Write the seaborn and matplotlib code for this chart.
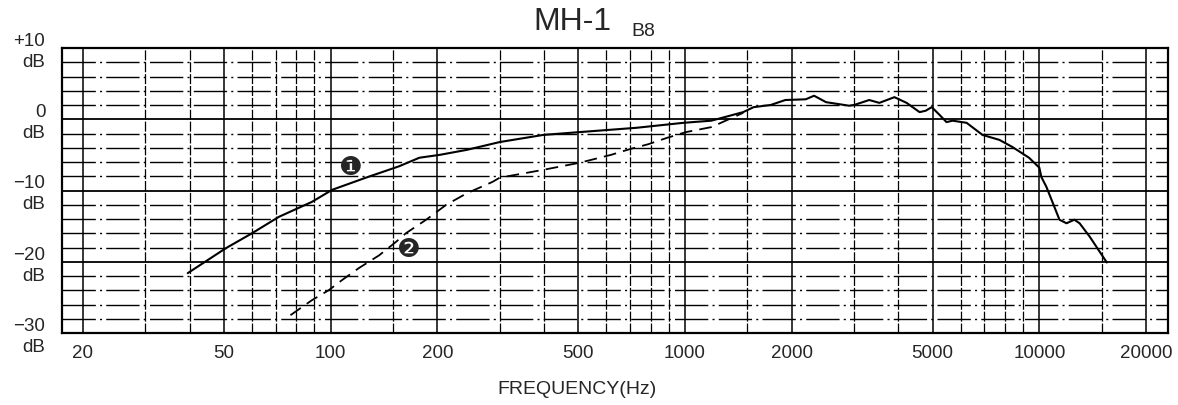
import numpy as np
import pandas as pd
import matplotlib
matplotlib.use('Agg')
import matplotlib.pyplot as plt
import seaborn as sns

# Curve 1 (solid) - frequency (Hz) and level (dB)
freq_1 = [39.5, 50.6, 60, 71.4, 88.5, 101, 125.7, 156, 178, 203, 242, 300, 398, 505,
          729, 990, 1187, 1459, 1562, 1744, 1919, 2191, 2313, 2500, 2904, 3000,
          3310, 3535, 3900, 4221, 4592, 4780, 4970, 5231, 5470, 5689, 6232, 6912,
          7716, 8396, 9349, 10000, 10130, 10470, 11396, 11930, 12550, 12990,
          13880, 15500]
level_1 = [-21.6, -18.1, -16.0, -13.7, -11.6, -9.9, -8.2, -6.6, -5.4, -5.0, -4.3, -3.2,
           -2.2, -1.8, -1.2, -0.5, -0.2, 1.0, 1.7, 2.0, 2.7, 2.8, 3.3, 2.4, 1.9, 2.0,
           2.7, 2.3, 3.1, 2.3, 1.0, 1.2, 1.7, 0.6, -0.4, -0.2, -0.5, -2.2,
           -2.9, -3.9, -5.4, -6.8, -8.1, -9.5, -14.1, -14.6, -14.1, -14.6,
           -16.5, -20.1]

# Curve 2 (dashed)
freq_2 = [77, 88.5, 98.7, 107.5, 120, 137, 153, 163, 186, 212, 242, 286, 300, 398,
          505, 618, 698, 788, 891, 1007, 1187, 1459]
level_2 = [-27.5, -25.4, -24.0, -22.6, -20.9, -19.1, -17.2, -16.0, -14.1, -12.0, -10.4,
           -8.8, -8.2, -7.1, -6.1, -5.0, -4.2, -3.5, -2.6, -1.8, -1.1, 0.9]

# axis ticks / grid
x_ticks = [20, 50, 100, 200, 500, 1000, 2000, 5000, 10000, 20000]
x_grid = [20, 30, 40, 50, 60, 70, 80, 90, 100, 150, 200, 300, 400, 500, 600, 700, 800,
          900, 1000, 1500, 2000, 3000, 4000, 5000, 6000, 7000, 8000, 9000, 10000,
          15000, 20000]
y_ticks = [10, 0, -10, -20, -30]
y_tick_labels = ['+10\ndB', '0\ndB', '\u221210\ndB', '\u221220\ndB', '\u221230\ndB']
y_grid = list(range(-28, 10, 2))

sns.set_theme(style='white')
plt.rcParams['font.family'] = ['Liberation Sans', 'DejaVu Sans']

fig = plt.figure(figsize=(11.78, 4.05), dpi=100)
ax = fig.add_axes([62 / 1178, 1 - 333 / 405, (1168 - 62) / 1178, (333 - 48) / 405])
ax.set_xscale('log')
ax.set_xlim(17.45, 23070)
ax.set_ylim(-30, 10)

# chart paper grid
for f in x_grid:
    if f in x_ticks:
        ax.axvline(f, color='black', lw=1.1, zorder=1)
    else:
        ax.axvline(f, color='black', lw=0.9, ls=(0, (8, 1.5)), zorder=1)
for v in y_grid:
    if v % 10 == 0:
        ax.axhline(v, color='black', lw=1.3, zorder=1)
    else:
        ax.axhline(v, color='black', lw=1.0, ls=(0, (24, 3, 1.5, 3)), zorder=1)

df1 = pd.DataFrame({'freq': freq_1, 'level': level_1})
df2 = pd.DataFrame({'freq': freq_2, 'level': level_2})
sns.lineplot(data=df1, x='freq', y='level', ax=ax, color='black', lw=1.5,
             sort=False, estimator=None, zorder=3)
sns.lineplot(data=df2, x='freq', y='level', ax=ax, color='black', lw=1.3,
             sort=False, estimator=None, zorder=3, linestyle=(0, (7, 4)))

# curve labels
ax.text(114, -6.8, '\u2776', fontsize=19, ha='center', va='center',
        family=['DejaVu Sans'], zorder=4)
ax.text(166, -18.4, '\u2777', fontsize=19, ha='center', va='center',
        family=['DejaVu Sans'], zorder=4)

ax.set_xticks(x_ticks)
ax.set_xticklabels([str(t) for t in x_ticks], fontsize=13.5)
ax.xaxis.set_minor_locator(matplotlib.ticker.NullLocator())
ax.set_yticks(y_ticks)
ax.set_yticklabels(y_tick_labels, fontsize=13.5, linespacing=1.3)
ax.tick_params(axis='x', length=0, pad=9)
ax.tick_params(axis='y', length=0, pad=12)
ax.set_xlabel('')
ax.set_ylabel('')

for s in ax.spines.values():
    s.set_color('black')
    s.set_linewidth(1.6)

fig.text(572 / 1178, 1 - 22 / 405, 'MH-1', fontsize=23, ha='center', va='center')
fig.text(643 / 1178, 1 - 31 / 405, 'B8', fontsize=14, ha='center', va='center')
fig.text(577 / 1178, 1 - 390 / 405, 'FREQUENCY(Hz)', fontsize=14, ha='center', va='center')

plt.savefig('out.png', dpi=100, facecolor='white')
